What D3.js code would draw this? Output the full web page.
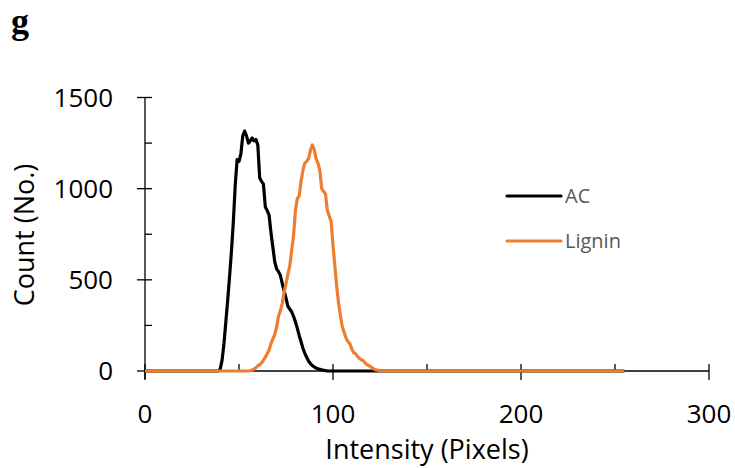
<!DOCTYPE html>
<html>
<head>
<meta charset="utf-8">
<script src="https://cdn.jsdelivr.net/npm/d3@7"></script>
<style>
  body { margin: 0; background: #fff; }
  svg text { font-family: "Open Sans", "Liberation Sans", sans-serif; }
</style>
</head>
<body>
<div id="chart"></div>
<script>
// AC histogram (intensity, count)
var acIntensity = [0, 38, 39, 40, 41, 42, 43, 44, 45, 46, 47, 48, 49, 50, 51, 52, 53, 54, 55, 56, 57, 58, 59, 60,
  61, 62, 63, 64, 65, 66, 67, 68, 69, 70, 71, 72, 73, 74, 75, 76, 77, 78, 79, 80, 81, 82, 83, 84, 85,
  86, 87, 88, 89, 90, 91, 92, 93, 94, 95, 96, 97, 255];
var acCount = [0, 0, 0, 10, 60, 150, 270, 390, 520, 660, 820, 1020, 1160, 1150, 1190, 1290, 1316, 1290, 1250, 1262, 1278, 1262, 1270, 1240,
  1060, 1040, 1025, 900, 880, 855, 760, 680, 600, 560, 545, 525, 480, 440, 400, 355, 340, 325, 300, 270, 235, 195, 160, 125, 97,
  75, 55, 40, 30, 22, 16, 12, 9, 6, 4, 2, 0, 0];

// Lignin histogram
var ligninIntensity = [0, 55, 56, 57, 58, 59, 60, 61, 62, 63, 64, 65, 66, 67, 68, 69, 70, 71, 72, 73, 74, 75, 76, 77, 78, 79,
  80, 81, 82, 83, 84, 85, 86, 87, 88, 89, 90, 91, 92, 93, 94, 95, 96, 97, 98, 99, 100, 101, 102, 103, 104,
  105, 106, 107, 108, 109, 110, 111, 112, 113, 114, 115, 116, 117, 118, 119, 120, 121, 122, 123, 124, 125, 126, 255];
var ligninCount = [0, 0, 2, 5, 10, 18, 28, 35, 45, 60, 75, 95, 115, 150, 175, 200, 240, 300, 330, 370, 430, 480, 530, 575, 660, 740,
  880, 945, 960, 1040, 1100, 1140, 1150, 1165, 1210, 1240, 1215, 1165, 1140, 1100, 1000, 985, 970, 880, 850, 820, 690, 575, 460, 370, 300,
  240, 210, 180, 160, 150, 120, 100, 95, 80, 70, 62, 58, 45, 35, 30, 24, 16, 10, 6, 4, 1, 0, 0];

var seriesNames = ["AC", "Lignin"];
var seriesColors = ["#000000", "#ED7D31"];
var xTicks = [0, 100, 200, 300];
var xMinorTicks = [50, 150, 250];
var yTicks = [0, 500, 1000, 1500];
var yMinorTicks = [250, 750, 1250];

var width = 735, height = 468;
var svg = d3.select("#chart").append("svg")
  .attr("width", width)
  .attr("height", height);

var x = d3.scaleLinear().domain([0, 300]).range([145, 709]);
var y = d3.scaleLinear().domain([0, 1500]).range([371, 97.5]);

// panel letter
svg.append("text")
  .attr("x", 11).attr("y", 33)
  .style("font-family", "'Liberation Serif', serif")
  .style("font-weight", "bold")
  .style("font-size", "36px")
  .text("g");

// y axis
var yAxis = svg.append("g").attr("transform", "translate(" + x(0) + ",0)");
yAxis.append("line")
  .attr("y1", y(0) + 8).attr("y2", y(1500))
  .attr("stroke", "#000").attr("stroke-width", 1.3);
yAxis.selectAll(".major").data(yTicks).enter().append("line")
  .attr("x1", -8).attr("x2", 7)
  .attr("y1", function(d) { return y(d); }).attr("y2", function(d) { return y(d); })
  .attr("stroke", "#000").attr("stroke-width", 1.3);
yAxis.selectAll(".minor").data(yMinorTicks).enter().append("line")
  .attr("x1", 0).attr("x2", 7)
  .attr("y1", function(d) { return y(d); }).attr("y2", function(d) { return y(d); })
  .attr("stroke", "#000").attr("stroke-width", 1.3);
yAxis.selectAll(".lab").data(yTicks).enter().append("text")
  .attr("x", -32)
  .attr("y", function(d) { return y(d); })
  .attr("dy", "0.36em")
  .attr("text-anchor", "end")
  .style("font-size", "26px")
  .text(function(d) { return d; });

// x axis
var xAxis = svg.append("g").attr("transform", "translate(0," + y(0) + ")");
xAxis.append("line")
  .attr("x1", x(0)).attr("x2", x(300))
  .attr("stroke", "#000").attr("stroke-width", 1.3);
xAxis.selectAll(".major").data(xTicks).enter().append("line")
  .attr("x1", function(d) { return x(d); }).attr("x2", function(d) { return x(d); })
  .attr("y1", -7).attr("y2", 9)
  .attr("stroke", "#000").attr("stroke-width", 1.3);
xAxis.selectAll(".minor").data(xMinorTicks).enter().append("line")
  .attr("x1", function(d) { return x(d); }).attr("x2", function(d) { return x(d); })
  .attr("y1", -7).attr("y2", 0)
  .attr("stroke", "#000").attr("stroke-width", 1.3);
xAxis.selectAll(".lab").data(xTicks).enter().append("text")
  .attr("x", function(d) { return x(d); })
  .attr("y", 52)
  .attr("text-anchor", "middle")
  .style("font-size", "26px")
  .text(function(d) { return d; });

// axis titles
svg.append("text")
  .attr("x", 427).attr("y", 459)
  .attr("text-anchor", "middle")
  .style("font-size", "27px")
  .text("Intensity (Pixels)");
svg.append("text")
  .attr("transform", "translate(34,235) rotate(-90)")
  .attr("text-anchor", "middle")
  .style("font-size", "27px")
  .text("Count (No.)");

// lines
var line = d3.line()
  .x(function(d) { return x(d[0]); })
  .y(function(d) { return y(d[1]); });

var acData = d3.zip(acIntensity, acCount);
var ligninData = d3.zip(ligninIntensity, ligninCount);

svg.append("path")
  .datum(acData)
  .attr("d", line)
  .attr("fill", "none")
  .attr("stroke", seriesColors[0])
  .attr("stroke-width", 3.2)
  .attr("stroke-linejoin", "round");

svg.append("path")
  .datum(ligninData)
  .attr("d", line)
  .attr("fill", "none")
  .attr("stroke", seriesColors[1])
  .attr("stroke-width", 3.2)
  .attr("stroke-linejoin", "round");

// legend
var legend = svg.selectAll(".legend").data(seriesNames).enter().append("g")
  .attr("transform", function(d, i) { return "translate(507," + (196 + i * 45) + ")"; });
legend.append("line")
  .attr("x1", 0).attr("x2", 54)
  .attr("stroke", function(d, i) { return seriesColors[i]; })
  .attr("stroke-width", 3.2)
  .attr("stroke-linecap", "round");
legend.append("text")
  .attr("x", 58)
  .attr("dy", "0.35em")
  .attr("fill", "#595959")
  .style("font-size", "20px")
  .text(function(d) { return d; });
</script>
</body>
</html>
